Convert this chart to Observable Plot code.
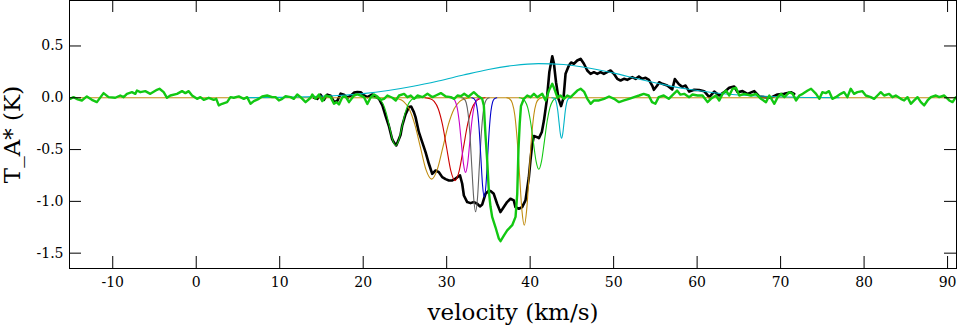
<!DOCTYPE html>
<html>
<head>
<meta charset="utf-8">
<script src="https://cdn.jsdelivr.net/npm/d3@7"></script>
<script src="https://cdn.jsdelivr.net/npm/@observablehq/plot@0.6"></script>
<style>
  html, body { margin: 0; padding: 0; background: #fff; }
  #chart svg { display: block; }
</style>
</head>
<body>
<div id="chart"></div>
<script>
// ---- tick values ----
const xTicks = [-10, 0, 10, 20, 30, 40, 50, 60, 70, 80, 90];
const yTicks = [-1.5, -1.0, -0.5, 0.0, 0.5];
const xLabel = "velocity (km/s)";
const yLabel = "T_A* (K)";

// ---- observed spectrum (black): [velocity, T_A*] ----
const spectrum = [[14.1,0.0],[14.5,-0.01],[14.9,0.03],[15.3,-0.02],[15.7,0.03],[16.1,0.02],[16.5,-0.04],[16.9,-0.03],[17.3,0.04],[17.7,0.03],[18.1,0.0],[18.5,0.02],[18.9,0.05],[19.3,0.055],[19.7,0.054],[20.1,0.022],[20.5,0.006],[21.1,0.032],[21.5,0.01],[21.9,-0.01],[22.3,-0.074],[22.7,-0.18],[23.07,-0.27],[23.47,-0.40],[23.67,-0.43],[23.96,-0.46],[24.27,-0.40],[24.47,-0.36],[24.67,-0.27],[25.07,-0.16],[25.47,-0.09],[25.75,-0.085],[26.07,-0.139],[26.27,-0.187],[26.67,-0.332],[27.07,-0.428],[27.47,-0.525],[27.87,-0.637],[28.27,-0.734],[28.67,-0.702],[29.07,-0.718],[29.47,-0.766],[29.87,-0.785],[30.27,-0.798],[30.67,-0.798],[31.06,-0.78],[31.4,-0.76],[31.6,-0.75],[31.86,-0.83],[32.06,-0.943],[32.46,-1.007],[32.86,-1.017],[33.26,-1.007],[33.66,-1.023],[33.98,-1.049],[34.26,-1.03],[34.65,-0.927],[35.05,-0.897],[35.25,-0.9],[35.64,-0.927],[36.04,-1.023],[36.44,-1.104],[36.84,-1.055],[37.24,-1.007],[37.64,-0.975],[38.04,-0.991],[38.24,-1.055],[38.64,-1.071],[39.04,-1.055],[39.44,-0.991],[39.84,-0.77],[40.04,-0.6],[40.25,-0.45],[40.45,-0.37],[40.85,-0.38],[41.05,-0.39],[41.4,-0.33],[41.65,-0.22],[42.0,-0.02],[42.3,0.25],[42.65,0.40],[42.85,0.33],[43.1,0.15],[43.4,-0.01],[43.7,-0.08],[44.0,0.0],[44.24,0.231],[44.64,0.312],[44.9,0.34],[45.24,0.328],[45.64,0.36],[46.04,0.376],[46.44,0.328],[46.84,0.263],[47.24,0.231],[47.64,0.247],[48.04,0.231],[48.43,0.247],[48.83,0.231],[49.23,0.247],[49.63,0.263],[50.03,0.231],[50.43,0.183],[50.83,0.167],[51.23,0.183],[51.63,0.173],[52.23,0.199],[52.63,0.183],[53.03,0.206],[53.43,0.183],[53.83,0.193],[54.23,0.173],[54.62,0.118],[54.82,0.077],[55.22,0.118],[55.45,0.15],[55.82,0.135],[56.42,0.118],[57.02,0.08],[57.33,0.18],[57.82,0.13],[58.22,0.105],[58.62,0.118],[59.05,0.06],[59.65,0.077],[60.25,0.075],[60.85,0.064],[61.45,0.006],[62.05,0.06],[62.64,0.022],[63.24,0.054],[63.84,0.096],[64.44,0.109],[64.84,0.054],[65.44,0.064],[66.04,0.038],[66.84,0.064],[67.44,0.013],[68.04,0.006],[68.83,0.0],[69.63,0.032],[70.43,0.038],[71.23,0.054],[71.63,0.038]];

// ---- residual (thick green): [velocity, T_A*] ----
const residual = [[-15.1,-0.01],[-14.7,0.006],[-14.2,-0.015],[-13.7,-0.026],[-13.1,0.013],[-12.5,-0.02],[-11.9,-0.042],[-11.1,0.045],[-10.5,0.006],[-9.7,0.0],[-9.1,0.022],[-8.7,0.006],[-8.3,0.038],[-7.7,0.054],[-7.3,0.038],[-7.1,0.07],[-6.7,0.054],[-6.1,0.064],[-5.5,0.038],[-4.7,0.077],[-4.4,0.087],[-3.9,0.054],[-3.5,0.0],[-3.1,0.022],[-2.3,0.038],[-1.7,0.064],[-1.3,0.045],[-0.9,0.064],[-0.5,0.022],[0.1,-0.01],[0.5,0.006],[0.9,-0.02],[1.5,0.0],[2.1,-0.02],[2.4,-0.01],[2.7,-0.074],[3.1,-0.058],[3.7,-0.042],[4.1,0.006],[4.5,0.0],[5.1,0.013],[5.7,-0.01],[6.1,0.006],[6.5,-0.058],[6.9,-0.032],[7.5,-0.01],[7.9,0.012],[8.5,0.022],[9.1,0.006],[9.5,0.006],[9.9,-0.026],[10.3,-0.01],[10.7,0.016],[11.3,0.006],[11.7,-0.01],[12.1,0.032],[12.5,0.006],[13.1,-0.042],[13.7,0.0],[13.9,0.032],[14.3,-0.01],[14.7,0.032],[15.1,-0.032],[15.5,0.022],[16.1,0.006],[16.5,-0.058],[16.8,-0.042],[17.1,-0.064],[17.5,0.006],[17.9,0.012],[18.3,-0.042],[18.9,0.022],[19.3,0.032],[19.7,0.02],[20.1,0.006],[20.5,-0.06],[20.9,0.006],[21.3,0.032],[21.7,0.012],[22.1,-0.02],[22.5,-0.01],[22.9,0.022],[23.5,0.0],[23.9,-0.026],[24.3,0.022],[24.9,0.038],[25.3,0.006],[25.7,0.022],[26.1,-0.01],[26.5,0.022],[27.1,0.006],[27.7,0.038],[28.3,0.006],[28.7,0.022],[29.3,0.045],[29.9,0.012],[30.5,0.006],[30.9,-0.01],[31.3,0.022],[31.7,0.015],[32.1,0.038],[32.6,0.01],[33.25,0.054],[33.7,0.02],[34.25,-0.01],[34.45,-0.074],[34.65,-0.36],[34.85,-0.6],[35.05,-0.9],[35.25,-1.05],[35.45,-1.15],[35.85,-1.25],[36.25,-1.36],[36.45,-1.384],[36.85,-1.33],[37.25,-1.28],[37.85,-1.23],[38.25,-1.15],[38.45,-0.93],[38.6,-0.5],[38.75,-0.25],[38.9,-0.08],[39.25,-0.01],[39.65,0.022],[40.05,0.006],[40.45,0.038],[40.85,0.006],[41.45,0.038],[41.85,-0.026],[42.25,0.07],[42.65,0.135],[42.9,0.087],[43.25,0.006],[43.65,0.022],[44.05,-0.01],[44.45,0.022],[44.85,0.006],[45.25,0.038],[45.65,0.07],[46.05,0.087],[46.45,0.06],[46.85,-0.01],[47.25,-0.058],[47.65,-0.026],[48.25,-0.026],[48.85,-0.01],[49.45,0.012],[50.05,-0.01],[50.65,-0.042],[51.25,-0.026],[51.85,-0.01],[52.45,0.006],[53.05,0.022],[53.6,0.038],[54.2,0.022],[54.6,-0.042],[55.0,-0.058],[55.4,0.006],[56.0,0.022],[56.6,-0.01],[57.2,0.038],[57.6,0.07],[58.0,0.03],[58.45,0.038],[59.05,0.006],[59.45,0.032],[60.05,0.022],[60.65,0.022],[61.25,-0.042],[61.65,-0.01],[62.25,0.022],[62.65,-0.026],[63.05,0.038],[63.45,0.07],[63.85,0.022],[64.25,0.087],[64.65,0.096],[65.05,0.022],[65.65,0.038],[66.45,0.022],[67.05,0.038],[67.65,-0.01],[68.25,-0.042],[68.65,0.022],[69.25,-0.058],[69.65,0.006],[70.05,0.038],[70.45,0.006],[71.05,0.054],[71.45,0.038],[71.85,-0.026],[72.25,0.022],[72.65,0.038],[73.25,0.07],[73.65,0.087],[74.25,0.038],[74.65,-0.01],[75.0,0.054],[75.4,0.045],[75.8,0.064],[76.2,-0.01],[76.6,0.006],[77.2,0.038],[77.6,0.054],[78.0,0.006],[78.4,0.087],[78.8,0.038],[79.2,0.054],[79.8,0.064],[80.2,0.022],[80.8,0.006],[81.2,-0.01],[81.6,0.022],[82.0,0.054],[82.4,0.022],[83.0,0.038],[83.4,0.006],[83.8,0.022],[84.4,-0.01],[84.8,-0.026],[85.2,0.006],[85.6,-0.058],[86.0,-0.026],[86.4,0.006],[86.8,-0.042],[87.2,-0.074],[87.6,-0.026],[88.0,0.006],[88.6,0.022],[89.0,0.006],[89.6,0.022],[90.2,-0.026],[90.6,-0.042],[91.0,0.006]];

const compGreen1 = [[21.0,0],[21.65,-0.005],[22.02,-0.02],[22.4,-0.062],[22.77,-0.149],[23.15,-0.279],[23.52,-0.406],[23.9,-0.46],[24.27,-0.406],[24.65,-0.279],[25.02,-0.149],[25.4,-0.062],[25.77,-0.02],[26.15,-0.005],[26.8,0]];
const compOrange1 = [[23.5,0],[24.15,-0.009],[24.82,-0.034],[25.5,-0.106],[26.17,-0.255],[26.85,-0.476],[27.52,-0.693],[28.2,-0.785],[28.87,-0.693],[29.55,-0.476],[30.22,-0.255],[30.9,-0.106],[31.57,-0.034],[32.25,-0.009],[32.9,0]];
const compRed = [[27.4,0],[28.0,-0.009],[28.5,-0.035],[29.0,-0.108],[29.5,-0.26],[30.0,-0.485],[30.5,-0.706],[31.0,-0.80],[31.5,-0.706],[32.0,-0.485],[32.5,-0.26],[33.0,-0.108],[33.5,-0.035],[34.0,-0.009],[34.6,0]];
const compMagenta = [[30.4,0],[30.76,-0.008],[31.01,-0.032],[31.26,-0.097],[31.51,-0.234],[31.76,-0.437],[32.01,-0.635],[32.26,-0.72],[32.51,-0.635],[32.76,-0.437],[33.01,-0.234],[33.26,-0.097],[33.51,-0.032],[33.76,-0.008],[34.1,0]];
const compGray = [[31.8,0],[32.11,-0.012],[32.34,-0.048],[32.56,-0.149],[32.79,-0.357],[33.01,-0.667],[33.24,-0.971],[33.46,-1.10],[33.69,-0.971],[33.91,-0.667],[34.14,-0.357],[34.36,-0.149],[34.59,-0.048],[34.81,-0.012],[35.1,0]];
const compBlue = [[33.0,0],[33.3,-0.011],[33.5,-0.042],[33.7,-0.13],[33.9,-0.312],[34.1,-0.582],[34.3,-0.847],[34.5,-0.96],[34.7,-0.847],[34.9,-0.582],[35.1,-0.312],[35.3,-0.13],[35.5,-0.042],[35.7,-0.011],[36.0,0]];
const compOrange2 = [[37.2,0],[37.59,-0.014],[37.87,-0.054],[38.16,-0.166],[38.44,-0.399],[38.73,-0.746],[39.01,-1.085],[39.3,-1.23],[39.58,-1.085],[39.87,-0.746],[40.15,-0.399],[40.44,-0.166],[40.72,-0.054],[41.01,-0.014],[41.4,0]];
const compGreen2 = [[38.7,0],[39.03,-0.008],[39.36,-0.03],[39.7,-0.093],[40.03,-0.224],[40.37,-0.418],[40.7,-0.609],[41.04,-0.69],[41.37,-0.609],[41.71,-0.418],[42.04,-0.224],[42.38,-0.093],[42.71,-0.03],[43.05,-0.008],[43.4,0]];
const compCyanNarrow = [[42.6,0],[42.86,-0.004],[43.01,-0.017],[43.16,-0.053],[43.31,-0.127],[43.46,-0.237],[43.61,-0.344],[43.76,-0.39],[43.91,-0.344],[44.06,-0.237],[44.21,-0.127],[44.36,-0.053],[44.51,-0.017],[44.66,-0.004],[44.9,0]];
const compCyanBroad = [[6,0.001],[10,0.004],[14,0.011],[17,0.022],[20,0.040],[23,0.070],[26,0.111],[29,0.162],[32,0.219],[35,0.273],[38,0.312],[41,0.330],[44,0.321],[47,0.288],[50,0.238],[53,0.181],[56,0.127],[59,0.082],[62,0.049],[65,0.027],[68,0.014],[72,0.005],[77,0.001]];

// ---- colours ----
const cBlack = "#000000", cGreen = "#12c812", cGold = "#c08c10", cRed = "#cc0000",
      cMagenta = "#c800c8", cGray = "#646464", cBlue = "#0000cc", cCyan = "#00b4c8";

const components = [
  {pts: compOrange1, color: cGold},
  {pts: compRed, color: cRed},
  {pts: compMagenta, color: cMagenta},
  {pts: compGray, color: cGray},
  {pts: compBlue, color: cBlue},
  {pts: compGreen1, color: cGreen},
  {pts: compOrange2, color: cGold},
  {pts: compGreen2, color: cGreen},
  {pts: compCyanNarrow, color: cCyan},
  {pts: compCyanBroad, color: cCyan}
];

const W = 957, H = 325;
const mL = 69, mR = 1, mT = 0, mB = 57;
const plotW = W - mL - mR, plotH = H - mT - mB;
const tickLen = 12;
const serif = "'DejaVu Serif', 'Liberation Serif', serif";

const chart = Plot.plot({
  width: W,
  height: H,
  marginLeft: mL,
  marginRight: mR,
  marginTop: mT,
  marginBottom: mB,
  style: {fontFamily: serif, fontSize: "14px", background: "#fff", color: "#000"},
  x: {domain: [-15.18, 91.07], ticks: xTicks, tickSize: 0, tickPadding: 9, tickFormat: d => String(d), label: null},
  y: {domain: [-1.648, 0.939], ticks: yTicks, tickSize: 0, tickPadding: 6, tickFormat: d => d.toFixed(1), label: null},
  marks: [
    Plot.line(spectrum, {x: d => d[0], y: d => d[1], stroke: cBlack, strokeWidth: 2.6}),
    Plot.ruleY([0], {stroke: cGold, strokeWidth: 1}),
    ...components.map(c => Plot.line(c.pts, {x: d => d[0], y: d => d[1], stroke: c.color, strokeWidth: 1.1, curve: "monotone-x"})),
    Plot.line(residual, {x: d => d[0], y: d => d[1], stroke: cGreen, strokeWidth: 2.4}),
    // inward tick marks on all four sides
    Plot.tickX(xTicks, {x: d => d, insetTop: plotH - tickLen, stroke: "#000"}),
    Plot.tickX(xTicks, {x: d => d, insetBottom: plotH - tickLen, stroke: "#000"}),
    Plot.tickY(yTicks, {y: d => d, insetRight: plotW - tickLen, stroke: "#000"}),
    Plot.tickY(yTicks, {y: d => d, insetLeft: plotW - tickLen, stroke: "#000"}),
    Plot.frame({stroke: "#000"}),
    Plot.text([xLabel], {text: d => d, frameAnchor: "bottom", dy: 51, lineAnchor: "bottom", textAnchor: "middle", fontSize: 23, fill: "#000"}),
    Plot.text([yLabel], {text: d => d, frameAnchor: "left", dx: -50, rotate: -90, lineAnchor: "bottom", textAnchor: "middle", fontSize: 23, fill: "#000"})
  ]
});
document.getElementById("chart").appendChild(chart);
</script>
</body>
</html>
